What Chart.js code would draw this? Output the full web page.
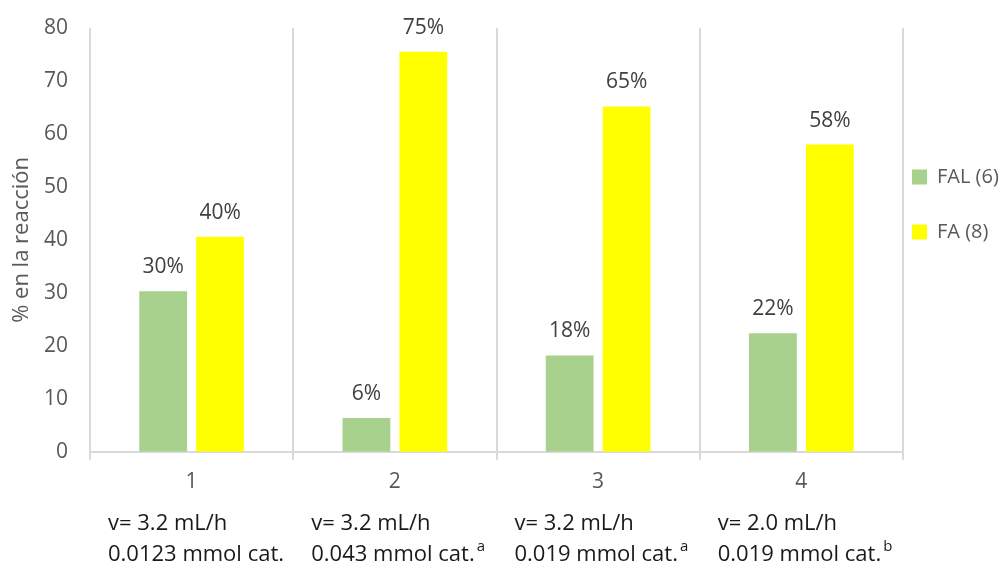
<!DOCTYPE html>
<html>
<head>
<meta charset="utf-8">
<script src="https://cdn.jsdelivr.net/npm/chart.js@4"></script>
<style>
html,body{margin:0;padding:0;background:#fff;}
#wrap{width:1002px;height:564px;}
</style>
</head>
<body>
<div id="wrap"><canvas id="chart"></canvas></div>
<script>
// data
const categories = ['1', '2', '3', '4'];
const falValues = [30.3, 6.4, 18.2, 22.4];
const faValues = [40.6, 75.5, 65.2, 58.0];
const falLabels = ['30%', '6%', '18%', '22%'];
const faLabels = ['40%', '75%', '65%', '58%'];
const noteRate = ['v= 3.2 mL/h', 'v= 3.2 mL/h', 'v= 3.2 mL/h', 'v= 2.0 mL/h'];
const noteCat = ['0.0123 mmol cat.', '0.043 mmol cat.', '0.019 mmol cat.', '0.019 mmol cat.'];
const noteSup = ['', 'a', 'a', 'b'];
const yTicks = [0, 10, 20, 30, 40, 50, 60, 70, 80];

const FONT = "'Open Sans', 'DejaVu Sans', sans-serif";
const GRID = '#d9d9d9';

// percent labels above each bar
const barLabels = {
    id: 'barLabels',
    afterDatasetsDraw(chart){
        const ctx = chart.ctx;
        const texts = [falLabels, faLabels];
        ctx.save();
        ctx.font = '21px ' + FONT;
        ctx.fillStyle = '#404040';
        ctx.textAlign = 'center';
        ctx.textBaseline = 'middle';
        chart.data.datasets.forEach((ds, d) => {
            chart.getDatasetMeta(d).data.forEach((bar, i) => {
                ctx.fillText(texts[d][i], bar.x, bar.y - 24);
            });
        });
        ctx.restore();
    }
};

// the conditions written under each category
const notes = {
    id: 'notes',
    afterDraw(chart){
        const ctx = chart.ctx;
        const x = chart.scales.x;
        const step = x.width / categories.length;
        const base = chart.chartArea.bottom;
        ctx.save();
        ctx.fillStyle = '#1a1a1a';
        ctx.textAlign = 'left';
        ctx.textBaseline = 'middle';
        categories.forEach((c, i) => {
            const left = x.getPixelForValue(i) - step / 2 + 18;
            ctx.font = '22px ' + FONT;
            ctx.fillText(noteRate[i], left, base + 72);
            ctx.fillText(noteCat[i], left, base + 103);
            if(noteSup[i]){
                const w = ctx.measureText(noteCat[i]).width;
                ctx.font = '15px ' + FONT;
                ctx.fillText(noteSup[i], left + w + 2, base + 95);
            }
        });
        ctx.restore();
    }
};

new Chart(document.getElementById('chart'), {
    type: 'bar',
    data: {
        labels: categories,
        datasets: [
            {label: 'FAL (6)', data: falValues, backgroundColor: '#a9d18e', categoryPercentage: 0.56, barPercentage: 0.84},
            {label: 'FA (8)', data: faValues, backgroundColor: '#ffff00', categoryPercentage: 0.56, barPercentage: 0.84}
        ]
    },
    options: {
        responsive: true,
        maintainAspectRatio: false,
        animation: false,
        layout: {padding: {top: 28, right: 0, bottom: 59, left: 0}},
        plugins: {
            tooltip: {enabled: false},
            legend: {
                position: 'right',
                align: 'start',
                fullSize: false,
                maxWidth: 99,
                title: {display: true, text: ' ', font: {size: 10, lineHeight: 1}, padding: {top: 120, bottom: 0}},
                labels: {
                    boxWidth: 15,
                    boxHeight: 15,
                    padding: 9,
                    color: '#595959',
                    font: {family: FONT, size: 20, lineHeight: 1.15},
                    generateLabels(chart){
                        return Chart.defaults.plugins.legend.labels.generateLabels(chart)
                            .map(l => Object.assign(l, {text: [l.text, ''], lineWidth: 0}));
                    }
                }
            }
        },
        scales: {
            x: {
                grid: {display: true, color: GRID, lineWidth: 2, tickLength: 8, drawOnChartArea: true},
                border: {display: true, color: GRID, width: 2},
                ticks: {color: '#595959', font: {family: FONT, size: 21}, padding: 10}
            },
            y: {
                min: 0,
                max: 80,
                afterBuildTicks(axis){ axis.ticks = yTicks.map(v => ({value: v})); },
                afterFit(axis){ axis.width = 90; axis.paddingTop = 0; axis.paddingBottom = 0; },
                grid: {display: false, drawTicks: false},
                border: {display: false},
                ticks: {color: '#595959', font: {family: FONT, size: 21}, padding: 22},
                title: {display: true, text: '% en la reacción', color: '#595959', font: {family: FONT, size: 22}, padding: {top: 9, bottom: 9}}
            }
        }
    },
    plugins: [barLabels, notes]
});
</script>
</body>
</html>
